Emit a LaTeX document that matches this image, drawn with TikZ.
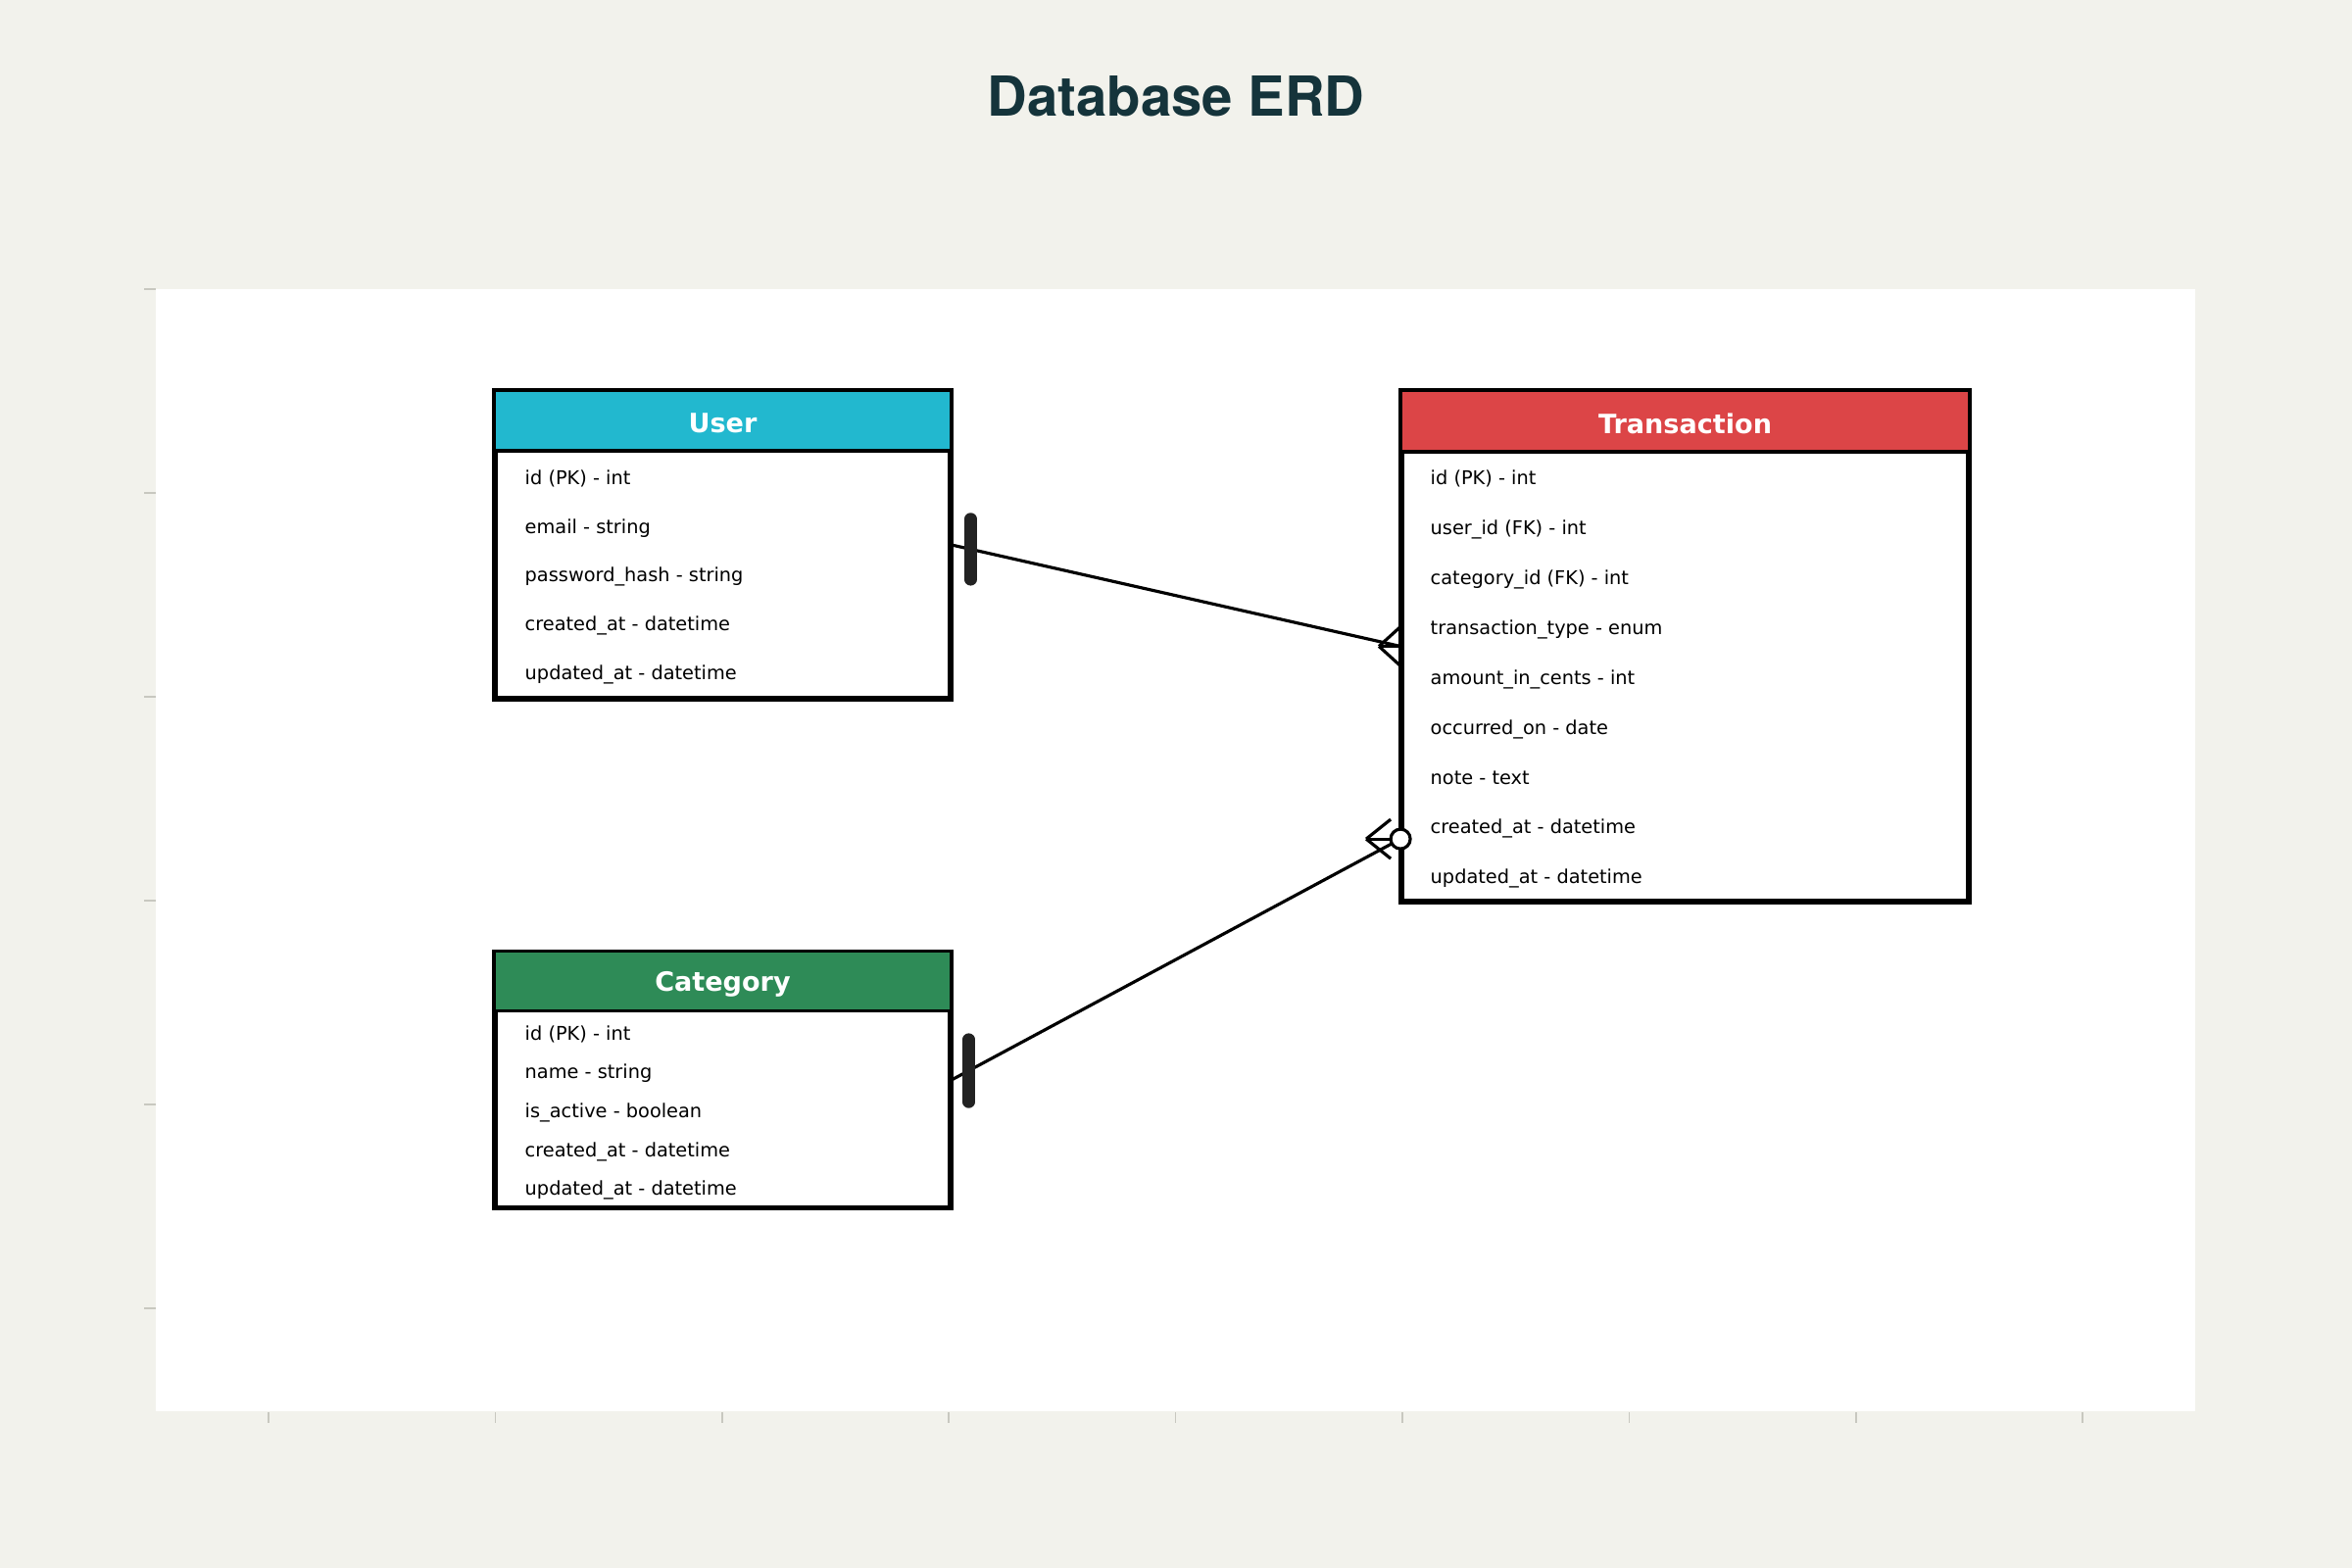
\documentclass[tikz,border=0pt]{standalone}
\usepackage{fontspec}
\setmainfont{DejaVu Sans}
\newfontfamily\titlefont{TeX Gyre Heros}
\usetikzlibrary{calc}
\definecolor{bgc}{HTML}{F2F2EC}
\definecolor{userc}{HTML}{22B8CF}
\definecolor{transc}{HTML}{DC4547}
\definecolor{catc}{HTML}{2E8B57}
\definecolor{titlec}{HTML}{15343B}
\definecolor{tickc}{HTML}{C8C8C0}
\definecolor{barc}{HTML}{222222}
\tikzset{
  entity/.style={draw=black, fill=white, line width=1pt, inner sep=0pt, rectangle},
  hdr/.style={font=\fontsize{7.7}{9}\selectfont\bfseries, text=white, inner sep=0pt},
  attr/.style={font=\fontsize{5.5}{6.5}\selectfont, anchor=base west, inner sep=0pt},
  rel/.style={draw=black, line width=0.9pt},
  onebar/.style={draw=barc, line width=3.5pt, line cap=round},
  tickline/.style={draw=tickc, line width=0.45pt},
}
\begin{document}
\begin{tikzpicture}[x=0.01cm, y=-0.01cm]
\useasboundingbox (0,0) rectangle (2400,1600);
\fill[bgc] (0,0) rectangle (2400,1600);
\fill[white] (159,295) rectangle (2240,1440);
% ticks
\foreach \yy in {295,503,711,919,1127,1335} \draw[tickline] (147,\yy) -- (159,\yy);
\foreach \k in {0,...,8} \draw[tickline] ({274+231.4*\k},1441) -- ({274+231.4*\k},1452);
% title
\node[font=\titlefont\fontsize{16}{19}\selectfont\bfseries, text=titlec, anchor=base, inner sep=0pt] (title) at (1200,119) {Database ERD};

% User
\node[entity, minimum width=4.63cm, minimum height=3.12cm] (user) at (737.5,556) {};
\fill[userc] (user.north west) rectangle ($(user.north east)+(0,62)$);
\draw[line width=1pt] ($(user.north west)+(0,62)$) -- ($(user.north east)+(0,62)$);
\draw[line width=1pt] (user.north west) rectangle (user.south east);
\node[hdr] (userh) at ($(user.north)+(0,34)$) {User};
\node[attr] (u1) at (535,494) {id (PK) - int};
\node[attr] (u2) at (535,544) {email - string};
\node[attr] (u3) at (535,593) {password\_hash - string};
\node[attr] (u4) at (535,643) {created\_at - datetime};
\node[attr] (u5) at (535,693) {updated\_at - datetime};

% Transaction
\node[entity, minimum width=5.77cm, minimum height=5.19cm] (trans) at (1719.5,659.5) {};
\fill[transc] (trans.north west) rectangle ($(trans.north east)+(0,63)$);
\draw[line width=1pt] ($(trans.north west)+(0,63)$) -- ($(trans.north east)+(0,63)$);
\draw[line width=1pt] (trans.north west) rectangle (trans.south east);
\node[hdr] (transh) at ($(trans.north)+(0,34)$) {Transaction};
\node[attr] (t1) at (1459,494) {id (PK) - int};
\node[attr] (t2) at (1459,545) {user\_id (FK) - int};
\node[attr] (t3) at (1459,596) {category\_id (FK) - int};
\node[attr] (t4) at (1459,647) {transaction\_type - enum};
\node[attr] (t5) at (1459,698) {amount\_in\_cents - int};
\node[attr] (t6) at (1459,749) {occurred\_on - date};
\node[attr] (t7) at (1459,800) {note - text};
\node[attr] (t8) at (1459,850) {created\_at - datetime};
\node[attr] (t9) at (1459,901) {updated\_at - datetime};

% Category
\node[entity, minimum width=4.63cm, minimum height=2.59cm] (cat) at (737.5,1102) {};
\fill[catc] (cat.north west) rectangle ($(cat.north east)+(0,61)$);
\draw[line width=1pt] ($(cat.north west)+(0,61)$) -- ($(cat.north east)+(0,61)$);
\draw[line width=1pt] (cat.north west) rectangle (cat.south east);
\node[hdr] (cath) at ($(cat.north)+(0,34)$) {Category};
\node[attr] (c1) at (535,1061) {id (PK) - int};
\node[attr] (c2) at (535,1100) {name - string};
\node[attr] (c3) at (535,1140) {is\_active - boolean};
\node[attr] (c4) at (535,1180) {created\_at - datetime};
\node[attr] (c5) at (535,1219) {updated\_at - datetime};

% User -- Transaction (one to many)
\draw[rel] (user.east) -- (trans.west);
\draw[rel] ($(user.east)+(0,-21)$) -- ($(user.east)+(0,21)$);
\coordinate (ub) at ($(user.east)!0.2cm!(trans.west)$);
\draw[onebar] ($(ub)+(0,-31)$) -- ($(ub)+(0,31)$);
\coordinate (ta) at ($(trans.west)+(-22,0)$);
\draw[rel] (ta) -- ($(trans.west)+(0,-20)$);
\draw[rel] (ta) -- (trans.west);
\draw[rel] (ta) -- ($(trans.west)+(0,20)$);

% Category -- Transaction (one to zero-or-many)
\coordinate (tc) at ($(trans.north west)+(0,458)$);
\draw[rel] (cat.east) -- (tc);
\draw[rel] ($(cat.east)+(0,-21)$) -- ($(cat.east)+(0,21)$);
\coordinate (cb) at ($(cat.east)!0.2cm!(tc)$);
\draw[onebar] ($(cb)+(0,-32)$) -- ($(cb)+(0,32)$);
\coordinate (tca) at ($(tc)+(-35,0)$);
\draw[rel] (tca) -- ($(tc)+(-10,-20)$);
\draw[rel] (tca) -- ($(tc)+(-10,0)$);
\draw[rel] (tca) -- ($(tc)+(-10,20)$);
\draw[rel, fill=white] (tc) circle[radius=10];
\end{tikzpicture}
\end{document}
